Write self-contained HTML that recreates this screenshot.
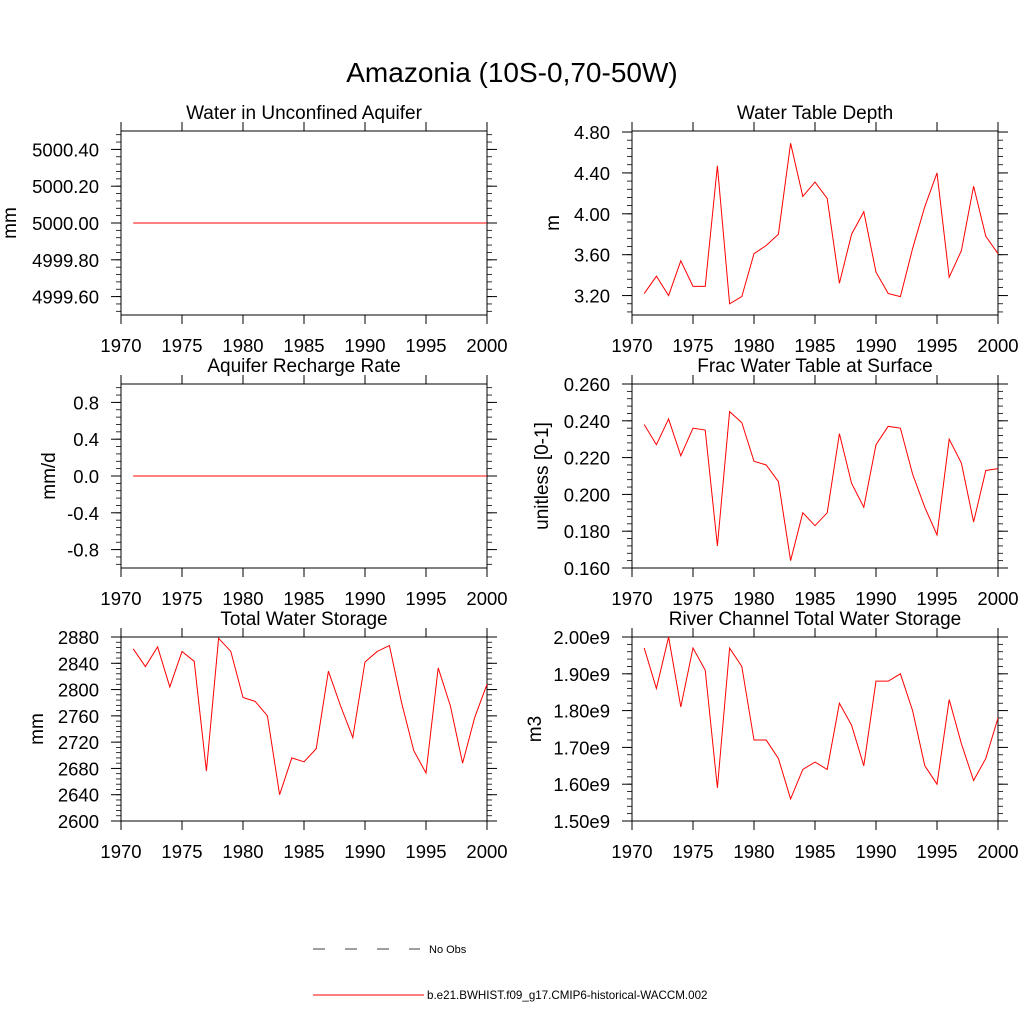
<!DOCTYPE html>
<html><head><meta charset="utf-8"><style>
body{margin:0;background:#fff;}
svg text{font-family:"Liberation Sans",sans-serif;fill:#000;}
</style></head><body>
<svg id="s" width="1024" height="1024" viewBox="0 0 1024 1024">
<text x="512" y="82" font-size="28" text-anchor="middle">Amazonia (10S-0,70-50W)</text>
<g id="plots"></g>
<g>
<line x1="313" y1="949" x2="420" y2="949" stroke="#000" stroke-width="0.8" stroke-dasharray="12,20"/>
<text x="429" y="953" font-size="11">No Obs</text>
<line x1="313" y1="995" x2="424" y2="995" stroke="#f00" stroke-width="1"/>
<text x="427" y="999" font-size="11.6">b.e21.BWHIST.f09_g17.CMIP6-historical-WACCM.002</text>
</g>
</svg>
<script>
const years=[1971,1972,1973,1974,1975,1976,1977,1978,1979,1980,1981,1982,1983,1984,1985,1986,1987,1988,1989,1990,1991,1992,1993,1994,1995,1996,1997,1998,1999,2000];
const xTicks=[1970,1975,1980,1985,1990,1995,2000];
const aquiferVals=years.map(()=>5000);
const rechargeVals=years.map(()=>0);
const wtdVals=[3.22,3.39,3.20,3.54,3.29,3.29,4.47,3.12,3.19,3.61,3.69,3.80,4.69,4.17,4.31,4.15,3.32,3.80,4.02,3.43,3.22,3.19,3.66,4.07,4.40,3.38,3.64,4.27,3.78,3.61];
const fracVals=[0.238,0.227,0.241,0.221,0.236,0.235,0.172,0.245,0.239,0.218,0.216,0.207,0.164,0.190,0.183,0.190,0.233,0.206,0.193,0.227,0.237,0.236,0.211,0.193,0.178,0.230,0.217,0.185,0.213,0.214];
const twsVals=[2862,2835,2865,2804,2858,2843,2676,2878,2858,2788,2782,2760,2640,2696,2690,2710,2828,2775,2727,2842,2858,2867,2780,2707,2673,2833,2775,2688,2758,2808];
const riverVals=[1.97,1.86,2.00,1.81,1.97,1.91,1.59,1.97,1.92,1.72,1.72,1.67,1.56,1.64,1.66,1.64,1.82,1.76,1.65,1.88,1.88,1.90,1.80,1.65,1.60,1.83,1.71,1.61,1.67,1.78];
const aquiferTicks=["4999.60","4999.80","5000.00","5000.20","5000.40"];
const rechargeTicks=["-0.8","-0.4","0.0","0.4","0.8"];
const wtdTicks=["3.20","3.60","4.00","4.40","4.80"];
const fracTicks=["0.160","0.180","0.200","0.220","0.240","0.260"];
const twsTicks=["2600","2640","2680","2720","2760","2800","2840","2880"];
const riverTicks=["1.50e9","1.60e9","1.70e9","1.80e9","1.90e9","2.00e9"];
const NS="http://www.w3.org/2000/svg";
const root=document.getElementById('plots');
function el(t,a,p){const e=document.createElementNS(NS,t);for(const k in a)e.setAttribute(k,a[k]);(p||root).appendChild(e);return e;}
const panels=[
 {name:'aquifer-water',title:'Water in Unconfined Aquifer',unit:'mm',x0:121,y0:131,ymin:4999.5,ymax:5000.5,vals:aquiferVals,ticks:aquiferTicks,scale:1,minor:4,ulx:16},
 {name:'water-table-depth',title:'Water Table Depth',unit:'m',x0:632,y0:131,ymin:3.01,ymax:4.81,vals:wtdVals,ticks:wtdTicks,scale:1,minor:4,ulx:559},
 {name:'recharge-rate',title:'Aquifer Recharge Rate',unit:'mm/d',x0:121,y0:384,ymin:-1,ymax:1,vals:rechargeVals,ticks:rechargeTicks,scale:1,minor:4,ulx:55},
 {name:'frac-water-table',title:'Frac Water Table at Surface',unit:'unitless [0-1]',x0:632,y0:384,ymin:0.16,ymax:0.26,vals:fracVals,ticks:fracTicks,scale:1,minor:4,ulx:548},
 {name:'total-water-storage',title:'Total Water Storage',unit:'mm',x0:121,y0:637,ymin:2600,ymax:2880,vals:twsVals,ticks:twsTicks,scale:1,minor:4,ulx:43},
 {name:'river-storage',title:'River Channel Total Water Storage',unit:'m3',x0:632,y0:637,ymin:1.5,ymax:2.0,vals:riverVals,ticks:riverTicks,scale:1e9,minor:4,ulx:541}
];
const W=366,H=184;
panels.forEach(p=>{
 const g=el('g',{});
 
 
 const xs=v=>p.x0+(v-1970)/30*W;
 const ys=v=>p.y0+H-(v-p.ymin)/(p.ymax-p.ymin)*H;
 const t=el('text',{x:p.x0+W/2,y:p.y0-12,'font-size':19,'text-anchor':'middle'},g);t.textContent=p.title;
 
 el('rect',{x:p.x0,y:p.y0,width:W,height:H,fill:'none',stroke:'#000','stroke-width':1},g);
 xTicks.forEach(v=>{const x=xs(v);
  el('line',{x1:x,y1:p.y0+H,x2:x,y2:p.y0+H+9,stroke:'#000'},g);
  el('line',{x1:x,y1:p.y0,x2:x,y2:p.y0-9,stroke:'#000'},g);
  const l=el('text',{x:x,y:p.y0+H+37,'font-size':18.5,'text-anchor':'middle'},g);l.textContent=v;
  
 });
 const tv=p.ticks.map(s=>parseFloat(s)/p.scale);
 const step=tv[1]-tv[0];
 for(let v=tv[0]-step;v<=p.ymax+1e-9;v+=step/(p.minor+1)){
  if(v<p.ymin-1e-9)continue;const y=ys(v);
  el('line',{x1:p.x0,y1:y,x2:p.x0-5,y2:y,stroke:'#000','stroke-width':0.8},g);
  el('line',{x1:p.x0+W,y1:y,x2:p.x0+W+5,y2:y,stroke:'#000','stroke-width':0.8},g);
 }
 p.ticks.forEach((s,i)=>{const y=ys(tv[i]);
  el('line',{x1:p.x0,y1:y,x2:p.x0-10,y2:y,stroke:'#000'},g);
  el('line',{x1:p.x0+W,y1:y,x2:p.x0+W+10,y2:y,stroke:'#000'},g);
  const l=el('text',{x:p.x0-22,y:y+7,'font-size':18.5,'text-anchor':'end'},g);l.textContent=s;
  
 });
 const cy=p.y0+H/2;
 const u=el('text',{x:p.ulx,y:cy,'font-size':19,'text-anchor':'middle',transform:`rotate(-90 ${p.ulx} ${cy})`},g);u.textContent=p.unit;
 
 const line=el('polyline',{points:years.map((yr,i)=>xs(yr)+','+ys(p.vals[i])).join(' '),fill:'none',stroke:'#f00','stroke-width':1},g);
 
});
</script>
</body></html>
